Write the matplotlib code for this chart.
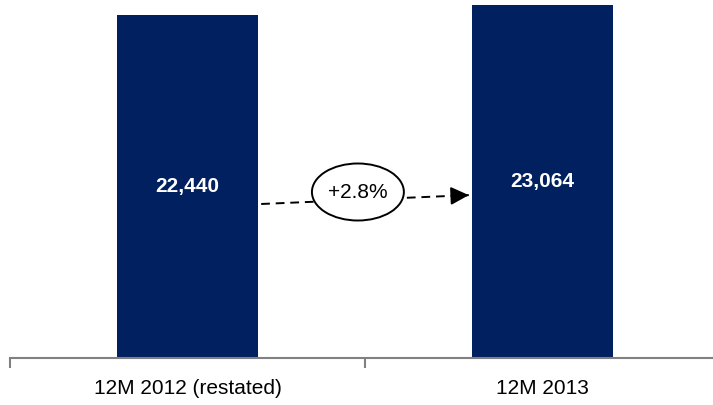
import matplotlib
matplotlib.use('Agg')
import matplotlib.pyplot as plt
from matplotlib.patches import Ellipse

plt.rcParams['font.family'] = ['Liberation Sans', 'DejaVu Sans']

categories = ['12M 2012 (restated)', '12M 2013']
values = [22440, 23064]
growth_label = '+2.8%'

navy = '#002060'

fig = plt.figure(figsize=(7.13, 4.05), dpi=100)
ax = fig.add_axes([10 / 713, 47 / 405, 710 / 713, 358 / 405])

x = list(range(len(categories)))
bar_w = 0.395
bars = ax.bar(x, values, width=bar_w, color=navy, zorder=2)

for xi, v in zip(x, values):
    ax.text(xi, v / 2, f'{v:,}', color='white', fontsize=15, fontweight='bold',
            ha='center', va='center', zorder=3)

ax.set_xlim(-0.5, 1.5)
ax.set_ylim(0, 23421)

# dashed line between bars, solid arrow head, growth bubble on top
x0 = x[0] + bar_w / 2 + 0.01
x1 = x[1] - bar_w / 2 - 0.01
y0 = values[0] * 0.449
y1 = values[1] * 0.462
ax.plot([x0, x1], [y0, y1], color='black', lw=1.4, dashes=(4.5, 3), zorder=3)
t = 0.93
ax.annotate('', xy=(x1, y1), xytext=(x0 + t * (x1 - x0), y0 + t * (y1 - y0)),
            arrowprops=dict(arrowstyle='-|>,head_length=1.1,head_width=0.55',
                            lw=1.4, color='black', shrinkA=0, shrinkB=0),
            zorder=3)
ell = Ellipse((0.48, 10860), width=0.259, height=3730, facecolor='white',
              edgecolor='black', lw=1.4, zorder=4)
ax.add_patch(ell)
ax.text(0.48, 10860, growth_label, fontsize=15, ha='center', va='center', zorder=5)

# axis styling
for side in ['top', 'right', 'left']:
    ax.spines[side].set_visible(False)
ax.spines['bottom'].set_color('#808080')
ax.spines['bottom'].set_linewidth(1.5)
ax.set_yticks([])
ax.set_xticks(x)
ax.set_xticklabels(categories, fontsize=15)
ax.tick_params(axis='x', which='major', length=0, pad=15)
ax.set_xticks([-0.5, 0.5, 1.5], minor=True)
ax.tick_params(axis='x', which='minor', length=7, width=1.5, color='#808080',
               direction='out')

fig.savefig('out.png', dpi=100)
